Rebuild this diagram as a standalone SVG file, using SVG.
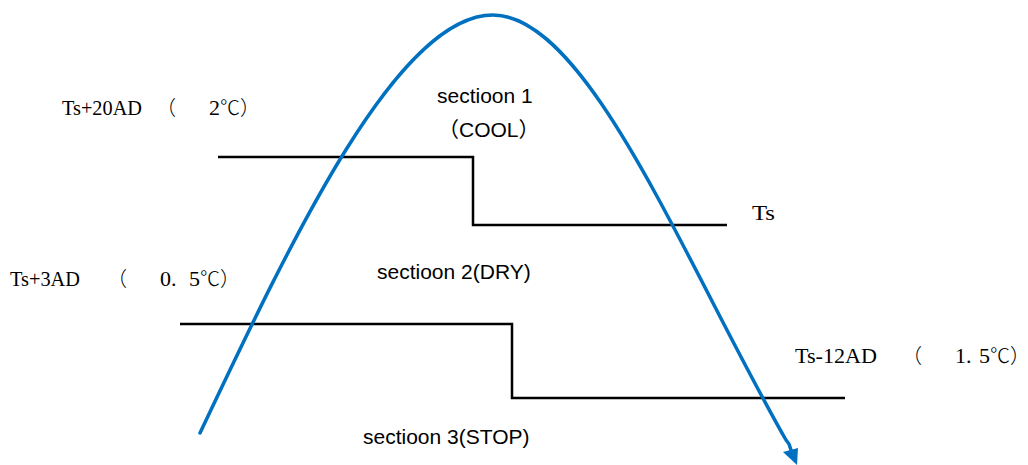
<svg xmlns="http://www.w3.org/2000/svg" width="1028" height="465" viewBox="0 0 1028 465">
  <style>
    .lvl { fill: none; stroke: #000; stroke-width: 2.5; }
    .curve { fill: none; stroke: #0070C0; stroke-width: 3.5; stroke-linecap: round; stroke-linejoin: round; }
    .arrow { fill: #0070C0; }
    .serif { font-family: "Liberation Serif", "Noto Sans CJK SC", serif; font-size: 22px; fill: #000; }
    .cjk { font-family: "Noto Sans CJK SC", sans-serif; font-size: 20px; font-weight: 300; }
    .sans { font-family: "Liberation Sans", "Noto Sans CJK SC", sans-serif; font-size: 21px; fill: #000; }
  </style>
  <rect width="1028" height="465" fill="#fff"/>

  <g id="connectors">
    <polyline id="upper-threshold" class="lvl" points="218,157 473,157 473,225 727,225"/>
    <polyline id="lower-threshold" class="lvl" points="180,324 512,324 512,398 845,398"/>
    <path id="temp-curve" class="curve" d="M200,433 C293.6,235 398,15 493,15 C588,15 685.2,263.6 786,440 L789,444 L791,450"/>
    <polygon class="arrow" points="783,452 798,448 797,465"/>
  </g>

  <g id="label-ts20">
    <text class="serif" y="115"><tspan x="62" textLength="80" lengthAdjust="spacingAndGlyphs">Ts+20AD</tspan><tspan class="cjk" x="156">（</tspan><tspan x="209">2</tspan><tspan class="cjk">℃）</tspan></text>
  </g>
  <g id="label-ts3">
    <text class="serif" y="286"><tspan x="10" textLength="70" lengthAdjust="spacingAndGlyphs">Ts+3AD</tspan><tspan class="cjk" x="107">（</tspan><tspan x="160">0.</tspan><tspan x="189">5</tspan><tspan class="cjk">℃）</tspan></text>
  </g>
  <g id="label-ts">
    <text class="serif" x="752" y="220" textLength="23" lengthAdjust="spacingAndGlyphs">Ts</text>
  </g>
  <g id="label-ts12">
    <text class="serif" y="363"><tspan x="795" textLength="82" lengthAdjust="spacingAndGlyphs">Ts-12AD</tspan><tspan class="cjk" x="902">（</tspan><tspan x="955">1.</tspan><tspan x="979">5</tspan><tspan class="cjk">℃）</tspan></text>
  </g>

  <g id="section1">
    <text class="sans" x="437" y="103">sectioon 1</text>
    <text class="sans" x="438" y="137">（COOL）</text>
  </g>
  <g id="section2">
    <text class="sans" x="377" y="279">sectioon 2(DRY)</text>
  </g>
  <g id="section3">
    <text class="sans" x="363" y="444">sectioon 3(STOP)</text>
  </g>
</svg>
